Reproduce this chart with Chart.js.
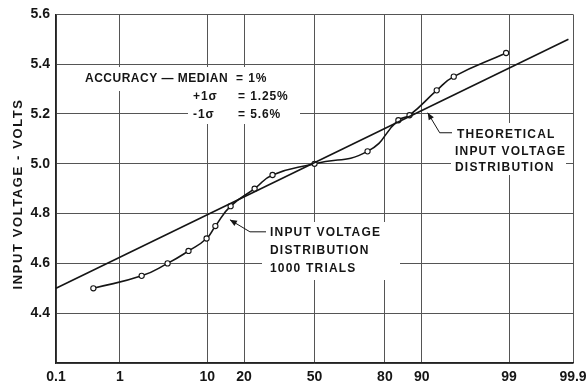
<!DOCTYPE html>
<html>
<head>
<meta charset="utf-8">
<script src="https://cdn.jsdelivr.net/npm/chart.js@4.4.1/dist/chart.umd.min.js"></script>
<style>
  html, body { margin: 0; padding: 0; background: #fff; }
  #wrap { width: 586px; height: 385px; }
</style>
</head>
<body>
<div id="wrap"><canvas id="probChart" width="586" height="385"></canvas></div>
<script>
// Measured distribution, 1000 trials (cumulative % vs volts)
const measuredPct   = [0.41, 1.94, 3.95, 6.6, 9.85, 11.8, 15.8, 23.7, 30.8, 50, 73.7, 84.2, 87.2, 92.8, 95.2, 98.9];
const measuredVolts = [4.50, 4.55, 4.60, 4.65, 4.70, 4.75, 4.83, 4.90, 4.955, 5.00, 5.05, 5.175, 5.195, 5.295, 5.35, 5.445];

// Theoretical distribution (straight line on probability paper)
const theoryPct   = [0.1, 99.88];
const theoryVolts = [4.5, 5.5];

// Axis ticks
const xTickValues = [0.1, 1, 10, 20, 50, 80, 90, 99, 99.9];
const yMin = 4.2, yMax = 5.6, yStep = 0.2;

// inverse normal cdf (Acklam), p given in percent
function probit(pct) {
  const p = pct / 100;
  const a = [-39.69683028665376, 220.9460984245205, -275.9285104469687, 138.3577518672690, -30.66479806614716, 2.506628277459239];
  const b = [-54.47609879822406, 161.5858368580409, -155.6989798598866, 66.80131188771972, -13.28068155288572];
  const c = [-0.007784894002430293, -0.3223964580411365, -2.400758277161838, -2.549732539343734, 4.374664141464968, 2.938163982698783];
  const d = [0.007784695709041462, 0.3224671290700398, 2.445134137142996, 3.754408661907416];
  const lo = 0.02425, hi = 1 - lo;
  let q, r;
  if (p < lo) {
    q = Math.sqrt(-2 * Math.log(p));
    return (((((c[0]*q+c[1])*q+c[2])*q+c[3])*q+c[4])*q+c[5]) / ((((d[0]*q+d[1])*q+d[2])*q+d[3])*q+1);
  }
  if (p <= hi) {
    q = p - 0.5; r = q * q;
    return (((((a[0]*r+a[1])*r+a[2])*r+a[3])*r+a[4])*r+a[5])*q / (((((b[0]*r+b[1])*r+b[2])*r+b[3])*r+b[4])*r+1);
  }
  q = Math.sqrt(-2 * Math.log(1 - p));
  return -(((((c[0]*q+c[1])*q+c[2])*q+c[3])*q+c[4])*q+c[5]) / ((((d[0]*q+d[1])*q+d[2])*q+d[3])*q+1);
}

// normal cdf, returns percent
function ncdf(z) {
  const t = 1 / (1 + 0.2316419 * Math.abs(z));
  const y = t * (0.319381530 + t * (-0.356563782 + t * (1.781477937 + t * (-1.821255978 + t * 1.330274429))));
  const pdf = Math.exp(-z * z / 2) / Math.sqrt(2 * Math.PI);
  const p = 1 - pdf * y;
  return 100 * (z >= 0 ? p : 1 - p);
}

// probability-paper scale
class ProbitScale extends Chart.Scale {
  determineDataLimits() {
    this.min = xTickValues[0];
    this.max = xTickValues[xTickValues.length - 1];
  }
  buildTicks() {
    return xTickValues.map(v => ({ value: v }));
  }
  getLabelForValue(v) { return String(v); }
  configure() {
    super.configure();
    this._zMin = probit(this.min);
    this._zMax = probit(this.max);
  }
  getPixelForValue(v) {
    return this.getPixelForDecimal((probit(v) - this._zMin) / (this._zMax - this._zMin));
  }
  getValueForPixel(px) {
    const dec = this.getDecimalForPixel(px);
    return ncdf(this._zMin + dec * (this._zMax - this._zMin));
  }
}
ProbitScale.id = 'probit';
ProbitScale.defaults = {};
Chart.register(ProbitScale);

const FONT = '"Liberation Sans", Arial, sans-serif';
const INK = '#151515';

function arrow(ctx, pts) {
  ctx.beginPath();
  ctx.moveTo(pts[0][0], pts[0][1]);
  for (let i = 1; i < pts.length; i++) ctx.lineTo(pts[i][0], pts[i][1]);
  ctx.stroke();
  // head at first point
  const [tx, ty] = pts[0], [sx, sy] = pts[1];
  const ang = Math.atan2(ty - sy, tx - sx);
  const len = 7, w = 3;
  ctx.beginPath();
  ctx.moveTo(tx, ty);
  ctx.lineTo(tx - len * Math.cos(ang) + w * Math.sin(ang), ty - len * Math.sin(ang) - w * Math.cos(ang));
  ctx.lineTo(tx - len * Math.cos(ang) - w * Math.sin(ang), ty - len * Math.sin(ang) + w * Math.cos(ang));
  ctx.closePath();
  ctx.fill();
}

const notes = {
  id: 'notes',
  afterDatasetsDraw(chart) {
    const ctx = chart.ctx, xs = chart.scales.x, ys = chart.scales.y;
    ctx.save();

    // clear gridlines behind the labels
    ctx.fillStyle = '#fff';
    ctx.fillRect(80, 67, 196, 24);
    ctx.fillRect(188, 88, 112, 36);
    ctx.fillRect(262, 222, 138, 58);
    ctx.fillRect(451, 123, 115, 52);

    ctx.fillStyle = INK;
    ctx.strokeStyle = INK;
    ctx.lineWidth = 1;
    ctx.font = 'bold 12px ' + FONT;
    ctx.textBaseline = 'middle';
    ctx.textAlign = 'left';

    ctx.letterSpacing = '0.5px';
    ctx.fillText('ACCURACY \u2014 MEDIAN', 85, 79);
    ctx.letterSpacing = '0.9px';
    ctx.fillText('= 1%', 236, 79);
    ctx.fillText('+1\u03C3', 193, 97);
    ctx.fillText('= 1.25%', 238, 97);
    ctx.fillText('-1\u03C3', 193, 115);
    ctx.fillText('= 5.6%', 238, 115);

    ctx.letterSpacing = '1.2px';
    ctx.fillText('THEORETICAL', 457, 135);
    ctx.fillText('INPUT VOLTAGE', 455, 152);
    ctx.fillText('DISTRIBUTION', 455, 168);

    ctx.fillText('INPUT VOLTAGE', 270, 233);
    ctx.fillText('DISTRIBUTION', 270, 251);
    ctx.fillText('1000 TRIALS', 270, 269);

    // leader arrows pointing at the curves
    const t1x = xs.getPixelForValue(91.2), t1y = ys.getPixelForValue(5.205);
    arrow(ctx, [[t1x, t1y], [t1x + 12, t1y + 20], [452, t1y + 20]]);
    const t2x = xs.getPixelForValue(15.6), t2y = ys.getPixelForValue(4.775);
    arrow(ctx, [[t2x, t2y], [t2x + 20, t2y + 12], [266, t2y + 12]]);

    // y axis title
    ctx.save();
    ctx.translate(18, 194);
    ctx.rotate(-Math.PI / 2);
    ctx.textAlign = 'center';
    ctx.font = 'bold 13px ' + FONT;
    ctx.letterSpacing = '1.6px';
    ctx.fillText('INPUT VOLTAGE - VOLTS', 0, 0);
    ctx.restore();

    ctx.restore();
  }
};

const ctx = document.getElementById('probChart').getContext('2d');
new Chart(ctx, {
  type: 'line',
  data: {
    datasets: [
      {
        label: 'Theoretical',
        data: theoryPct.map((p, i) => ({ x: p, y: theoryVolts[i] })),
        borderColor: INK,
        borderWidth: 1.6,
        pointRadius: 0,
        tension: 0
      },
      {
        label: 'Measured',
        data: measuredPct.map((p, i) => ({ x: p, y: measuredVolts[i] })),
        borderColor: INK,
        borderWidth: 1.6,
        pointRadius: 2.6,
        pointBorderWidth: 1.1,
        pointBackgroundColor: '#fff',
        pointBorderColor: INK,
        tension: 0.5
      }
    ]
  },
  options: {
    responsive: false,
    animation: false,
    events: [],
    layout: { padding: { top: 13, right: 13, left: 0, bottom: 0 } },
    plugins: { legend: { display: false }, tooltip: { enabled: false } },
    scales: {
      x: {
        type: 'probit',
        grid: { color: '#555', lineWidth: 1, drawTicks: false },
        border: { color: '#222', width: 1.5 },
        ticks: {
          autoSkip: false,
          maxRotation: 0,
          padding: 6,
          color: INK,
          font: { family: FONT, size: 14, weight: 'bold' },
          callback: v => String(v)
        },
        afterFit(s) { s.height = 22; s.paddingLeft = 0; s.paddingRight = 0; }
      },
      y: {
        min: yMin,
        max: yMax,
        grid: { color: '#555', lineWidth: 1, drawTicks: false },
        border: { color: '#222', width: 1.5 },
        ticks: {
          stepSize: yStep,
          padding: 6,
          color: INK,
          font: { family: FONT, size: 14, weight: 'bold' },
          callback: v => (v < yMin + 0.01 ? '' : v.toFixed(1))
        },
        afterFit(s) { s.width = 56; }
      }
    }
  },
  plugins: [notes]
});
</script>
</body>
</html>
